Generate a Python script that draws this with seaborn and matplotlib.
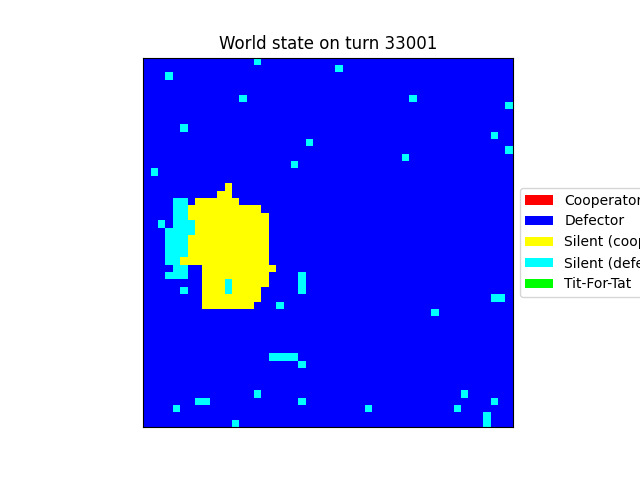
import numpy as np
import matplotlib
matplotlib.use("Agg")
import matplotlib.pyplot as plt
from matplotlib.colors import ListedColormap
from matplotlib.patches import Patch
import seaborn as sns

turn = 33001
grid_size = 50

states = ['Cooperator', 'Defector', 'Silent (cooperator)', 'Silent (defector)', 'Tit-For-Tat']
state_colors = ['red', 'blue', 'yellow', 'cyan', 'lime']

# background is all defectors (state 1)
background_state = 1

# (row, first col, last col) runs of silent cooperators
silent_coop_runs = [
    (17, 11, 11), (18, 10, 11), (19, 7, 12), (20, 6, 15), (21, 6, 16),
    (22, 7, 16), (23, 7, 16), (24, 6, 16), (25, 6, 16), (26, 6, 16),
    (27, 5, 16), (28, 8, 17), (29, 8, 16), (30, 8, 10), (30, 12, 16),
    (31, 8, 10), (31, 12, 15), (32, 8, 15), (33, 8, 14),
]

# (row, first col, last col) runs of silent defectors
silent_def_runs = [
    (0, 15, 15), (1, 26, 26), (2, 3, 3), (5, 13, 13), (5, 36, 36),
    (6, 49, 49), (9, 5, 5), (10, 47, 47), (11, 22, 22), (12, 49, 49),
    (13, 35, 35), (14, 20, 20), (15, 1, 1),
    (19, 4, 5), (20, 4, 5), (21, 4, 5), (22, 2, 2), (22, 4, 6),
    (23, 3, 6), (24, 3, 5), (25, 3, 5), (26, 3, 5), (27, 3, 4),
    (28, 4, 5), (29, 3, 5), (29, 21, 21), (30, 11, 11), (30, 21, 21),
    (31, 5, 5), (31, 11, 11), (31, 21, 21), (32, 47, 48), (33, 18, 18),
    (34, 39, 39), (40, 17, 20), (41, 21, 21), (45, 15, 15), (45, 43, 43),
    (46, 7, 8), (46, 21, 21), (46, 47, 47), (47, 4, 4), (47, 30, 30),
    (47, 42, 42), (48, 46, 46), (49, 12, 12), (49, 46, 46),
]

world = np.full((grid_size, grid_size), background_state)
for r, c0, c1 in silent_coop_runs:
    world[r, c0:c1 + 1] = 2
for r, c0, c1 in silent_def_runs:
    world[r, c0:c1 + 1] = 3

cmap = ListedColormap(state_colors)

fig, ax = plt.subplots(figsize=(6.4, 4.8), dpi=100)
sns.heatmap(world, cmap=cmap, vmin=-0.5, vmax=4.5, cbar=False, square=True,
            xticklabels=False, yticklabels=False, ax=ax)

for s in ax.spines.values():
    s.set_visible(True)
    s.set_linewidth(0.8)
    s.set_color('black')

ax.set_title(f'World state on turn {turn}')

handles = [Patch(facecolor=c, label=l) for c, l in zip(state_colors, states)]
ax.legend(handles=handles, loc='center left', bbox_to_anchor=(1, 0.5))

fig.savefig('out.png', dpi=100)
